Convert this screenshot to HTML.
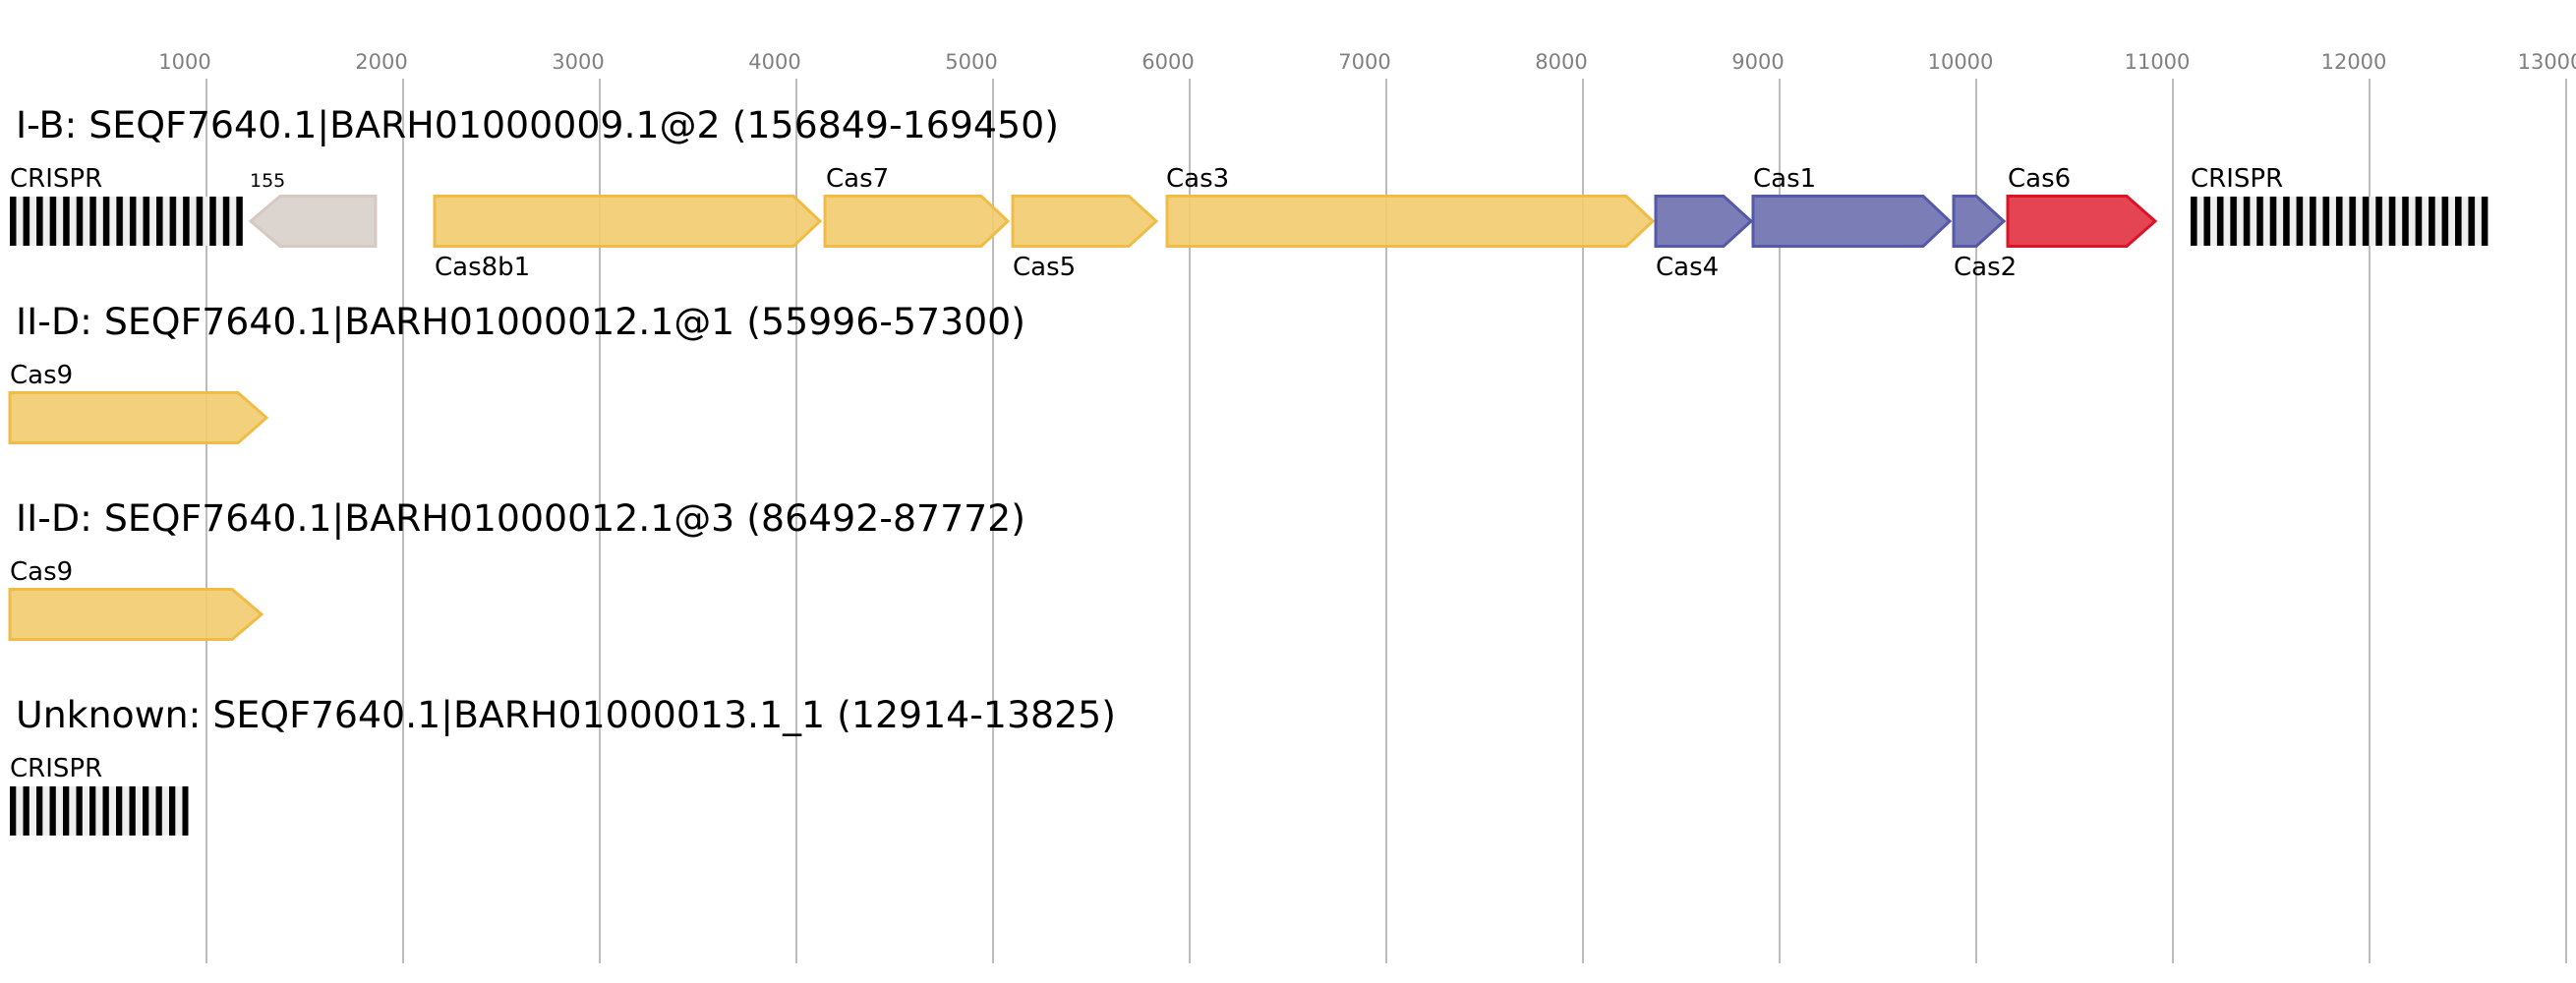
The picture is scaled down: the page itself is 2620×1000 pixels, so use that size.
<!DOCTYPE html>
<html><head><meta charset="utf-8"><style>
html,body{margin:0;padding:0;background:#fff;}
svg{display:block;}
text{font-family:"DejaVu Sans","Liberation Sans",sans-serif;}
</style></head><body>
<svg width="2620" height="1000" viewBox="0 0 2620 1000" xmlns="http://www.w3.org/2000/svg">
<defs>
<pattern id="pa" x="10" y="0" width="13.55" height="1000" patternUnits="userSpaceOnUse"><rect width="13.55" height="1000" fill="#efefef"/><rect width="6.5" height="1000" fill="#000"/></pattern>
<pattern id="pb" x="2228" y="0" width="13.45" height="1000" patternUnits="userSpaceOnUse"><rect width="13.45" height="1000" fill="#efefef"/><rect width="6.6" height="1000" fill="#000"/></pattern>
<pattern id="pc" x="10" y="0" width="13.5" height="1000" patternUnits="userSpaceOnUse"><rect width="13.5" height="1000" fill="#efefef"/><rect width="6.3" height="1000" fill="#000"/></pattern>
</defs>
<g stroke="#bdbdbd" stroke-width="2">
<line x1="210" y1="80" x2="210" y2="980"/><line x1="410" y1="80" x2="410" y2="980"/><line x1="610" y1="80" x2="610" y2="980"/><line x1="810" y1="80" x2="810" y2="980"/><line x1="1010" y1="80" x2="1010" y2="980"/><line x1="1210" y1="80" x2="1210" y2="980"/><line x1="1410" y1="80" x2="1410" y2="980"/><line x1="1610" y1="80" x2="1610" y2="980"/><line x1="1810" y1="80" x2="1810" y2="980"/><line x1="2010" y1="80" x2="2010" y2="980"/><line x1="2210" y1="80" x2="2210" y2="980"/><line x1="2410" y1="80" x2="2410" y2="980"/><line x1="2610" y1="80" x2="2610" y2="980"/>
</g>
<g font-size="21" fill="#808080" text-anchor="middle">
<text x="188" y="70">1000</text><text x="388" y="70">2000</text><text x="588" y="70">3000</text><text x="788" y="70">4000</text><text x="988" y="70">5000</text><text x="1188" y="70">6000</text><text x="1388" y="70">7000</text><text x="1588" y="70">8000</text><text x="1788" y="70">9000</text><text x="1994" y="70">10000</text><text x="2194" y="70">11000</text><text x="2394" y="70">12000</text><text x="2594" y="70">13000</text>
</g>
<g font-size="37" fill="#000" lengthAdjust="spacingAndGlyphs">
<text x="16" y="140" textLength="1061" lengthAdjust="spacingAndGlyphs">I-B: SEQF7640.1|BARH01000009.1@2 (156849-169450)</text>
<text x="16" y="340" textLength="1027" lengthAdjust="spacingAndGlyphs">II-D: SEQF7640.1|BARH01000012.1@1 (55996-57300)</text>
<text x="16" y="540" textLength="1027" lengthAdjust="spacingAndGlyphs">II-D: SEQF7640.1|BARH01000012.1@3 (86492-87772)</text>
<text x="16" y="740" textLength="1119" lengthAdjust="spacingAndGlyphs">Unknown: SEQF7640.1|BARH01000013.1_1 (12914-13825)</text>
</g>
<rect x="10" y="200" width="237" height="50" fill="url(#pa)"/>
<rect x="2228" y="200" width="302.5" height="50" fill="url(#pb)"/>
<rect x="10" y="800" width="181.5" height="50" fill="url(#pc)"/>
<g stroke-width="3">
<polygon points="382,199.5 285,199.5 255,225 285,250.5 382,250.5" fill="#dcd4cf" stroke="#d5c9c1"/>
<g fill="#f2cb6e" fill-opacity="0.9" stroke="#f0bc45">
<polygon points="442,199.5 807,199.5 834,225 807,250.5 442,250.5"/>
<polygon points="839,199.5 998,199.5 1025,225 998,250.5 839,250.5"/>
<polygon points="1030,199.5 1148,199.5 1176,225 1148,250.5 1030,250.5"/>
<polygon points="1187,199.5 1654,199.5 1681,225 1654,250.5 1187,250.5"/>
<polygon points="10,399.5 242,399.5 271,425 242,450.5 10,450.5"/>
<polygon points="10,599.5 236,599.5 266,625 236,650.5 10,650.5"/>
</g>
<g fill="#7b7eb6" stroke="#5659a8">
<polygon points="1684,199.5 1753,199.5 1781,225 1753,250.5 1684,250.5"/>
<polygon points="1783,199.5 1956,199.5 1983,225 1956,250.5 1783,250.5"/>
<polygon points="1987,199.5 2010,199.5 2038,225 2010,250.5 1987,250.5"/>
</g>
<polygon points="2042,199.5 2163,199.5 2192,225 2163,250.5 2042,250.5" fill="#e54452" stroke="#dc1428"/>
</g>
<g font-size="26" fill="#000">
<text x="10" y="190">CRISPR</text>
<text x="254" y="190" font-size="19">155</text>
<text x="840" y="190">Cas7</text>
<text x="1186" y="190">Cas3</text>
<text x="1783" y="190">Cas1</text>
<text x="2042" y="190">Cas6</text>
<text x="2228" y="190">CRISPR</text>
<text x="442" y="280">Cas8b1</text>
<text x="1030" y="280">Cas5</text>
<text x="1684" y="280">Cas4</text>
<text x="1987" y="280">Cas2</text>
<text x="10" y="390">Cas9</text>
<text x="10" y="590">Cas9</text>
<text x="10" y="790">CRISPR</text>
</g>
</svg>
</body></html>
